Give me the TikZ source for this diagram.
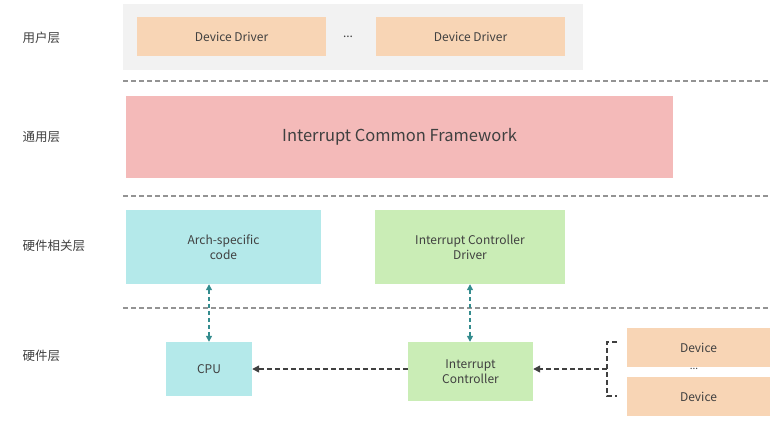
\documentclass[tikz,border=0pt]{standalone}
\usepackage{fontspec}
\setmainfont{Noto Sans CJK SC}
\usetikzlibrary{arrows.meta,positioning}
\definecolor{txtgray}{RGB}{64,64,64}
\definecolor{bggray}{RGB}{242,242,242}
\definecolor{drvpeach}{RGB}{248,213,181}
\definecolor{frmpink}{RGB}{244,186,185}
\definecolor{archcyan}{RGB}{180,233,234}
\definecolor{ctrlgreen}{RGB}{202,237,182}
\definecolor{linkteal}{RGB}{52,140,142}

\begin{document}
\begin{tikzpicture}[x=1pt,y=-1pt,
  font=\fontsize{12}{15}\selectfont,text=txtgray,
  layer/.style={anchor=west,font=\fontsize{12.5}{14}\selectfont},
  block/.style={rectangle,inner sep=0pt,align=center},
  sep/.style={draw=gray!85,line width=1.2pt,dash pattern=on 5pt off 3pt},
  hwlink/.style={{Triangle[length=6pt,width=6pt]}-{Triangle[length=6pt,width=6pt]},line width=1.3pt,draw=linkteal,dash pattern=on 4pt off 3pt},
  irqlink/.style={-{Triangle[length=7pt,width=7pt]},line width=1.3pt,draw=txtgray,dash pattern=on 5pt off 3pt}]
  \useasboundingbox (0,0) rectangle (783,429);
  % layer names
  \node[layer] (user) at (19,38) {用户层};
  \node[layer] (common) at (19,137) {通用层};
  \node[layer] (hwdep) at (19,246) {硬件相关层};
  \node[layer] (hw) at (19,356) {硬件层};
  % user layer
  \node[block,fill=bggray,minimum width=460pt,minimum height=66pt] (userbg) at (353,37) {};
  \node[block,fill=drvpeach,minimum width=189pt,minimum height=39pt] (drv1) at (231.5,36.5) {Device Driver};
  \node[block,fill=drvpeach,minimum width=189pt,minimum height=39pt] (drv2) at (470.5,36.5) {Device Driver};
  \node (drvdots) at (348,37) {...};
  \draw[sep] (123,81) -- (770,81);
  % common layer
  \node[block,fill=frmpink,minimum width=547pt,minimum height=82pt,font=\fontsize{16.5}{20}\selectfont] (framework) at (399.5,137) {Interrupt Common Framework};
  \draw[sep] (123,196) -- (770,196);
  % hardware dependent layer
  \node[block,fill=archcyan,minimum width=195pt,minimum height=74pt] (arch) at (223.5,247) {Arch-specific\\code};
  \node[block,fill=ctrlgreen,minimum width=190pt,minimum height=74pt] (icdrv) at (470,247) {Interrupt Controller\\Driver};
  \draw[sep] (123,308) -- (770,308);
  % hardware layer
  \node[block,fill=archcyan,minimum width=86pt,minimum height=54pt] (cpu) at (209,369) {CPU};
  \node[block,fill=ctrlgreen,minimum width=125pt,minimum height=59pt] (ic) at (470.5,371.5) {Interrupt\\Controller};
  \node[block,fill=drvpeach,minimum width=143pt,minimum height=39pt] (dev1) at (698.5,347.5) {Device};
  \node[block,fill=drvpeach,minimum width=143pt,minimum height=39pt] (dev2) at (698.5,396.5) {Device};
  \node[font=\fontsize{10}{12}\selectfont] (devdots) at (694,369) {...};
  \coordinate (joint) at (607,369);
  \draw[hwlink] (arch.south -| cpu.north) -- (cpu.north);
  \draw[hwlink] (icdrv.south) -- (ic.north -| icdrv.south);
  \draw[irqlink] (ic.west |- cpu.east) -- (cpu.east);
  \draw[irqlink] (joint) -- (ic.east |- joint);
  \draw[draw=txtgray,line width=1.1pt,dash pattern=on 5pt off 3pt] (617,342) -- (607,342) -- (607,396) -- (617,396);
\end{tikzpicture}
\end{document}
